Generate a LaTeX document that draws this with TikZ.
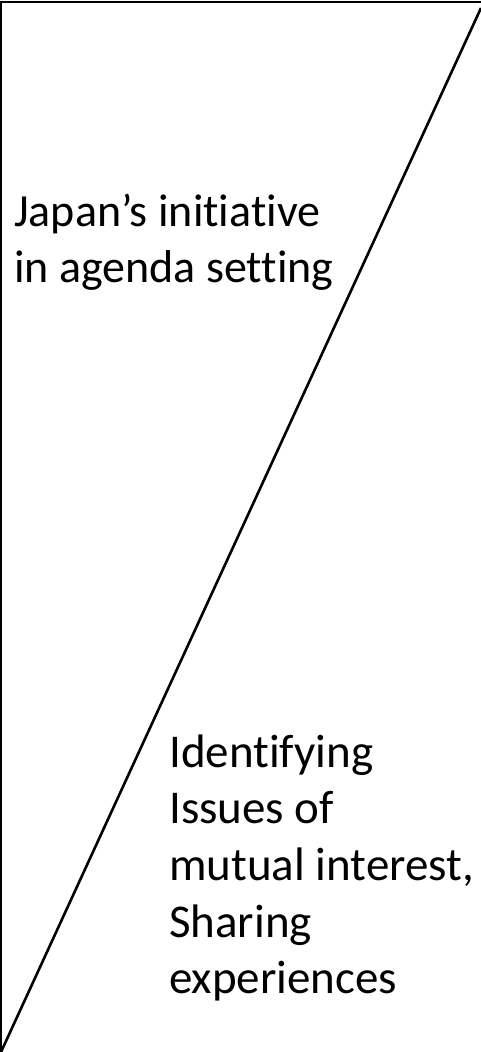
\documentclass[tikz,border=0pt]{standalone}
\usepackage{fontspec}
\setmainfont{Carlito}[Ligatures=NoCommon]
\tikzset{
  edgeline/.style={line width=2.2pt,line cap=rect},
  slashline/.style={line width=2.6pt},
  caption/.style={align=left,inner sep=0pt,anchor=base west,
    font=\fontsize{46}{56.5}\selectfont}
}
\begin{document}
\begin{tikzpicture}[x=1pt,y=1pt]
 \useasboundingbox (0,0) rectangle (481,1052);
 %% corners of the frame
 \coordinate (bl) at (1,0);
 \coordinate (tl) at (1,1050);
 \coordinate (tr) at (481,1050);
 \coordinate (tip) at (481,1044);
 \draw[edgeline] (bl) -- (tl) -- (tr);
 \draw[slashline] (bl) -- (tip);
 %% the two captions (base = last line)
 \node[caption] (initiative) at (14,769) {Japan’s initiative\\in agenda setting};
 \node[caption,font=\fontsize{47}{56.7}\selectfont] (mutual) at (169,58)
   {Identifying\\Issues of\\mutual interest,\\Sharing\\experiences};
\end{tikzpicture}
\end{document}
